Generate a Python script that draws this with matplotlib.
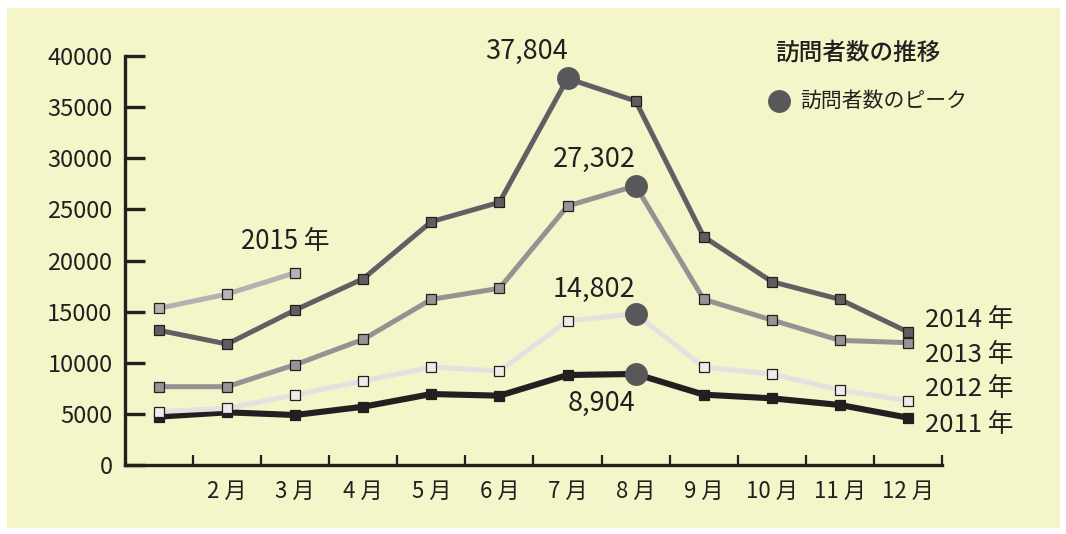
import matplotlib
matplotlib.use("Agg")
import matplotlib.pyplot as plt
from matplotlib.patches import Rectangle

plt.rcParams['font.family'] = ['Noto Sans CJK JP', 'DejaVu Sans']

months = list(range(1, 13))
month_labels = ["2 月", "3 月", "4 月", "5 月", "6 月", "7 月", "8 月", "9 月", "10 月", "11 月", "12 月"]
y_ticks = [0, 5000, 10000, 15000, 20000, 25000, 30000, 35000, 40000]

v2011 = [4730, 5150, 4890, 5700, 6940, 6780, 8800, 8904, 6880, 6520, 5870, 4630]
v2012 = [5220, 5540, 6850, 8220, 9580, 9190, 14080, 14802, 9580, 8900, 7330, 6290]
v2013 = [7660, 7660, 9810, 12290, 16200, 17280, 25330, 27302, 16200, 14180, 12190, 11960]
v2014 = [13170, 11830, 15160, 18220, 23800, 25690, 37804, 35600, 22330, 17930, 16200, 13010]
v2015 = [15320, 16720, 18800]

series_labels = ["2011 年", "2012 年", "2013 年", "2014 年"]
peak_months = [8, 8, 8, 7]
peak_texts = ["8,904", "14,802", "27,302", "37,804"]

BG = "#f4f5c8"
TXT = "#231f20"

W, H = 1066, 534
fig = plt.figure(figsize=(W / 100, H / 100), dpi=100)
fig.patch.set_facecolor("white")
fig.add_artist(Rectangle((7 / W, 1 - 528 / H), (1060 - 7) / W, (528 - 8) / H,
                         transform=fig.transFigure, facecolor=BG, edgecolor="none", zorder=0))

ax = fig.add_axes([125 / W, 1 - 465 / H, (942 - 125) / W, (465 - 56) / H])
ax.set_facecolor("none")
ax.set_xlim(0.5, 12.5)
ax.set_ylim(0, 40000)

styles = [
    # line color, marker face, linewidth
    ("#231f20", "#231f20", 4.4),
    ("#e2e2e2", "#ececec", 3.6),
    ("#939393", "#959595", 3.6),
    ("#606062", "#5e5e60", 3.6),
]
data = [v2011, v2012, v2013, v2014]
for vals, (lc, mf, lw) in zip(data, styles):
    ax.plot(months, vals, color=lc, lw=lw, marker="s", markersize=6.5,
            markerfacecolor=mf, markeredgecolor="#231f20", markeredgewidth=0.9,
            solid_joinstyle="miter", zorder=3, clip_on=False)
ax.plot(months[:len(v2015)], v2015, color="#b2b2b2", lw=3.6, marker="s", markersize=6.5,
        markerfacecolor="#b4b4b4", markeredgecolor="#231f20", markeredgewidth=0.9,
        zorder=3, clip_on=False)

# peaks
peak_color = "#58585a"
for vals, pm in zip(data, peak_months):
    ax.plot([pm], [vals[pm - 1]], marker="o", markersize=16.5, color=peak_color,
            markeredgewidth=0, zorder=4, clip_on=False)

# peak annotations (right-aligned at the peak month)
peak_label_y = [6000, 17200, 29900, 40400]
for pm, txt, ly in zip(peak_months, peak_texts, peak_label_y):
    ax.text(pm, ly, txt, ha="right", va="center", fontsize=19.5, color=TXT, clip_on=False)

ax.text(2.86, 21900, "2015 年", ha="center", va="center", fontsize=18.6, color=TXT)

# series labels on right
label_y = [3910, 7430, 10760, 14180]
for lab, ly in zip(series_labels, label_y):
    ax.text(12.25, ly, lab, ha="left", va="center", fontsize=18.5, color=TXT, clip_on=False)

# legend
fig.text(858 / W, 1 - 53 / H, "訪問者数の推移", ha="center", va="center", fontsize=17,
         color=TXT, fontweight="medium")
fig.add_artist(plt.Line2D([778.5 / W], [1 - 101 / H], marker="o", markersize=16.5,
                          color=peak_color, markeredgewidth=0, transform=fig.transFigure))
fig.text(800 / W, 1 - 101 / H, "訪問者数のピーク", ha="left", va="center", fontsize=15, color=TXT)

# axes styling
for s in ["top", "right"]:
    ax.spines[s].set_visible(False)
for s in ["left", "bottom"]:
    ax.spines[s].set_linewidth(2.4)
    ax.spines[s].set_color(TXT)
    ax.spines[s].set_capstyle("projecting")

ax.set_yticks(y_ticks)
ax.set_yticklabels([str(v) for v in y_ticks])
ax.tick_params(axis="y", direction="in", length=14.5, width=2.4, color=TXT,
               pad=9, labelsize=17, labelcolor=TXT)

ax.set_xticks([m + 0.5 for m in months])
ax.set_xticklabels([])
ax.tick_params(axis="x", which="major", direction="in", length=7.5, width=1.6, color=TXT)
ax.set_xticks(months[1:], minor=True)
ax.set_xticklabels(month_labels, minor=True)
ax.tick_params(axis="x", which="minor", length=0, pad=11, labelsize=16, labelcolor=TXT)

fig.savefig("out.png", dpi=100, facecolor="white")
